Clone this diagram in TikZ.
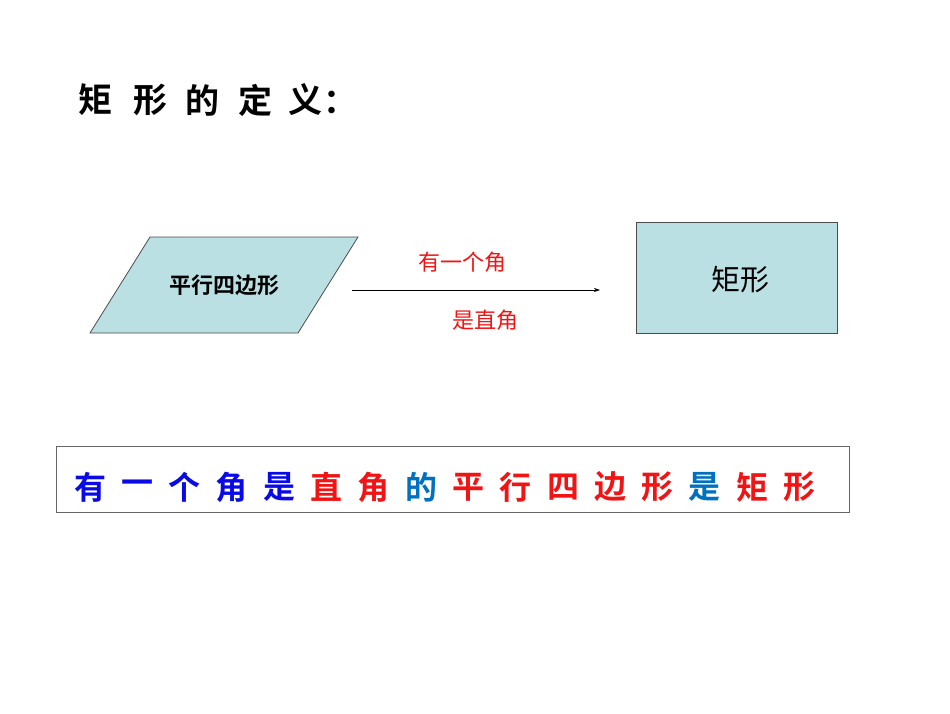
\documentclass[tikz,border=0pt]{standalone}
\usetikzlibrary{arrows.meta}
\usepackage{fontspec}
\newfontfamily\cjk{Noto Sans CJK SC}
\newfontfamily\cjkb{Noto Sans CJK SC Bold}
\definecolor{boxfill}{RGB}{187,224,227}
\definecolor{myred}{RGB}{240,20,20}
\definecolor{myblue}{RGB}{10,10,230}
\definecolor{myteal}{RGB}{0,112,192}
\tikzset{shp/.style={draw=black!70,fill=boxfill,line width=0.8pt}}
\begin{document}
\begin{tikzpicture}[x=1pt,y=-1pt]
\useasboundingbox (0,0) rectangle (950,713);
\foreach \c/\x in {矩/95,形/150,的/202,定/255,义/305}{
  \node[font=\cjkb\fontsize{34}{34}\selectfont] at (\x,100) {\c};}
\node[font=\cjkb\fontsize{34}{34}\selectfont] (colon) at (340,102) {：};
\draw[shp] (90,333) -- (150,237) -- (358,237) -- (298,333) -- cycle;
\node[font=\cjkb\fontsize{22}{22}\selectfont] (para) at (224,285) {平行四边形};
\draw[shp] (636,222) rectangle (837,333);
\node[font=\cjk\fontsize{29}{29}\selectfont] (rect) at (740,280) {矩形};
\coordinate (a) at (352,290); \coordinate (b) at (600,290);
\draw[-{Stealth[length=6pt,width=4pt]},line width=0.6pt] (a) -- (b);
\node[font=\cjk\fontsize{22}{22}\selectfont,text=myred] (l1) at (462,262) {有一个角};
\node[font=\cjk\fontsize{22}{22}\selectfont,text=myred] (l2) at (485,320) {是直角};
\draw[draw=black!60,line width=0.8pt] (56,446) rectangle (849,512);
\foreach \c/\col [count=\i] in {有/myblue,一/myblue,个/myblue,角/myblue,是/myblue,直/myred,角/myred,的/myteal,平/myred,行/myred,四/myred,边/myred,形/myred,是/myteal,矩/myred,形/myred}{
  \node[font=\cjkb\fontsize{32}{32}\selectfont,text=\col] at (90+\i*47.3-47.3,487) {\c};}
\end{tikzpicture}
\end{document}
